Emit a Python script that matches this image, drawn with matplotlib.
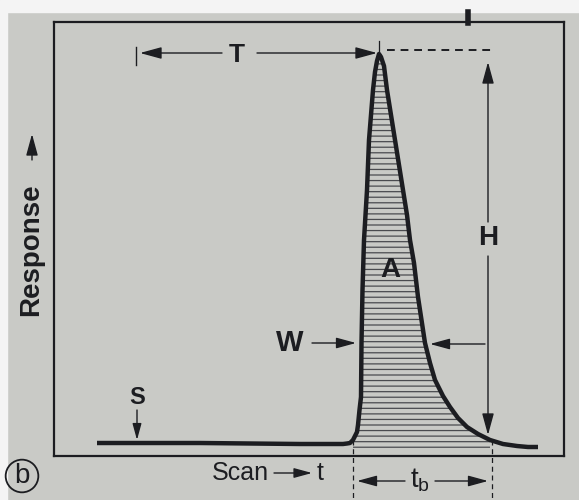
import matplotlib
matplotlib.use("Agg")
import matplotlib.pyplot as plt
from matplotlib.patches import Rectangle

plt.rcParams['font.family'] = ['Liberation Sans', 'DejaVu Sans']
plt.rcParams['hatch.linewidth'] = 0.9

INK = '#1c1d21'
PAPER = '#c9cac6'
WHITE = '#f4f4f4'

# detector trace (time units, response units)
scan_t = [43, 146, 246, 289, 293, 296, 299, 301, 303, 304, 305.5, 307, 307.5,
          308.5, 310, 311.5, 313, 315, 317, 319, 321, 323, 325, 327, 330, 333,
          337, 341, 345, 349, 353, 356, 360, 364, 367.5, 371, 376, 381, 389,
          396, 404, 413, 424, 436, 449, 463, 474, 484]
response = [13, 13, 12, 12, 12.5, 13, 16, 20, 24, 31, 46, 59, 113,
            166, 216, 241, 266, 316, 341, 366, 384, 395, 402, 399, 390, 366,
            341, 316, 291, 266, 241, 216, 193, 159, 136, 113, 93, 76, 60,
            49, 38, 29, 22, 16, 12, 10, 9, 9]

peak_t, peak_h = 325, 403
noise_t = 83          # S marker
half_width_r = 113    # level of the W arrows
band_start, band_end = 299, 438   # t_b limits
band_floor = 8


def arrow(ax, tail, tip, size=12, lw=1.0, coords='data'):
    ax.annotate('', xy=tip, xytext=tail, xycoords=coords, textcoords=coords,
                arrowprops=dict(arrowstyle='-|>,head_length=1.1,head_width=0.3',
                                color=INK, lw=lw, shrinkA=0, shrinkB=0,
                                mutation_scale=size),
                annotation_clip=False)


fig = plt.figure(figsize=(5.79, 5.0), dpi=100, facecolor=PAPER)
fig.patches.append(Rectangle((0, 1 - 12 / 500), 1, 12 / 500, transform=fig.transFigure,
                             color=WHITE, zorder=0))
fig.patches.append(Rectangle((0, 0), 7 / 579, 1, transform=fig.transFigure,
                             color=WHITE, zorder=0))

ax = fig.add_axes([54 / 579, 44 / 500, 510 / 579, 434 / 500])
ax.set_facecolor('none')
ax.set_xlim(0, 510)
ax.set_ylim(0, 434)
ax.set_xticks([])
ax.set_yticks([])
for sp in ax.spines.values():
    sp.set_linewidth(1.6)
    sp.set_color(INK)

# stub on top edge
fig.add_artist(plt.Line2D([468 / 579, 468 / 579], [1 - 12 / 500, 1 - 23 / 500],
                          color=INK, lw=4, transform=fig.transFigure))

# hatched peak area
in_band = [band_start <= t <= band_end for t in scan_t]
ax.fill_between(scan_t, response, band_floor, where=in_band, facecolor='none',
                edgecolor='#4a4b4f', linewidth=0, hatch='---')

ax.plot(scan_t, response, color=INK, lw=3.2, solid_capstyle='butt', solid_joinstyle='round')

# T
ax.plot([82, 82], [391, 409], color=INK, lw=1.0)
arrow(ax, (168, peak_h), (86, peak_h))
arrow(ax, (203, peak_h), (peak_t - 2, peak_h))
ax.text(183, 401, 'T', fontsize=19, fontweight='bold', color=INK, ha='center', va='center')
ax.plot([peak_t, peak_t], [peak_h, peak_h + 12], color=INK, lw=0.9)

# H
ax.plot([333, band_end], [406, 406], color=INK, lw=1.4, ls=(0, (4, 3)))
arrow(ax, (434, 234), (434, 394))
arrow(ax, (434, 200), (434, 21))
ax.text(434, 218, 'H', fontsize=20, fontweight='bold', color=INK, ha='center', va='center')

# A
ax.text(336, 186, 'A', fontsize=20, fontweight='bold', color=INK, ha='center', va='center')

# W
ax.text(236, half_width_r, 'W', fontsize=21, fontweight='bold', color=INK, ha='center', va='center')
arrow(ax, (258, half_width_r), (302, half_width_r), size=11)
arrow(ax, (431, half_width_r - 1), (376, half_width_r - 1), size=11)

# S
ax.text(noise_t, 58, 'S', fontsize=17, fontweight='bold', color=INK, ha='center', va='center')
arrow(ax, (noise_t, 46), (noise_t, 16), size=9)

# t_b
for t in (band_start, band_end):
    ax.plot([t, t], [16, -44], color=INK, lw=0.9, ls=(0, (4, 3)), clip_on=False)
arrow(ax, (351, -25), (303, -25), size=11)
arrow(ax, (381, -25), (434, -25), size=11)
ax.text(366, -24, 't$_{\\mathregular{b}}$', fontsize=20, color=INK, ha='center',
        va='center', clip_on=False)

# scan axis label
ax.text(158, -17, 'Scan', fontsize=18, color=INK, ha='left', va='center', clip_on=False)
arrow(ax, (220, -17), (258, -17), size=10)
ax.text(263, -17, 't', fontsize=18, color=INK, ha='left', va='center', clip_on=False)

# response axis label
fig.text(31 / 579, 1 - 250 / 500, 'Response', rotation=90, fontsize=20, fontweight='bold',
         color=INK, ha='center', va='center')
arrow(ax, (32 / 579, 1 - 160 / 500), (32 / 579, 1 - 134 / 500), size=12,
      coords='figure fraction')

# panel tag
fig.text(22 / 579, 1 - 476 / 500, 'b', fontsize=20, color=INK, ha='center', va='center',
         bbox=dict(boxstyle='circle,pad=0.12', fc='none', ec=INK, lw=1.3))

fig.savefig('out.png', dpi=100, facecolor=PAPER)
